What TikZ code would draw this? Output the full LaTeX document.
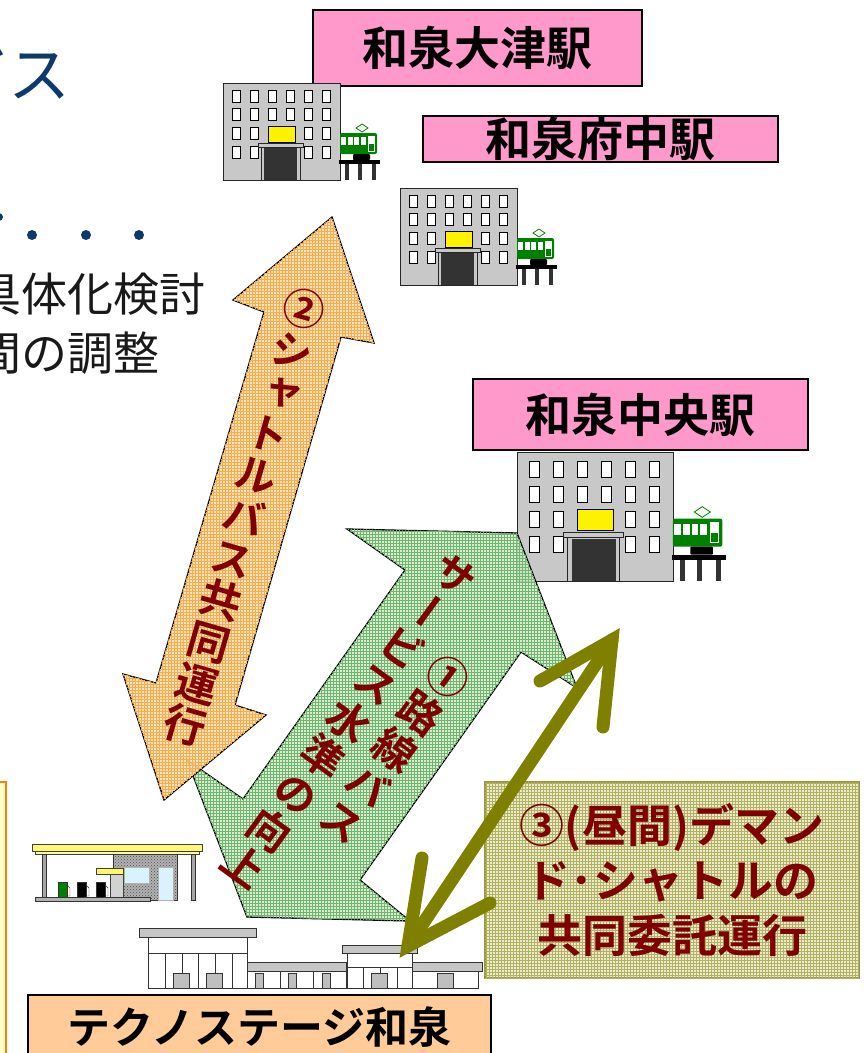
\documentclass[tikz,border=0pt]{standalone}
\usepackage{fontspec}
\setmainfont{Noto Sans CJK JP}[BoldFont={Noto Sans CJK JP Bold}]
\newfontfamily\tate{Noto Sans CJK JP}[RawFeature=+vert,BoldFont={Noto Sans CJK JP Bold}]
\usetikzlibrary{patterns}

\definecolor{titleblue}{HTML}{0D3A6B}
\definecolor{ekipink}{HTML}{FF99CC}
\definecolor{bldggray}{HTML}{C8C8C8}
\definecolor{doorgray}{HTML}{333333}
\definecolor{traingreen}{HTML}{008000}
\definecolor{shuttleorange}{HTML}{FFE2B8}
\definecolor{shuttlemesh}{HTML}{FFAA48}
\definecolor{routegreen}{HTML}{D0ECC8}
\definecolor{routemesh}{HTML}{70B470}
\definecolor{demandfill}{HTML}{ECECC8}
\definecolor{demandmesh}{HTML}{B0B066}
\definecolor{demandolive}{HTML}{808000}
\definecolor{darkred}{HTML}{800000}
\definecolor{technopeach}{HTML}{FFCC99}
\definecolor{notefill}{HTML}{FFFFCC}

\tikzset{
  stationbldg/.pic={
    \draw[gray!30!black, line width=0.8pt, fill=bldggray] (0,0) rectangle (117,97);
    \foreach \c in {0,...,5}
      \foreach \r in {0,1}
        \draw[black, line width=0.8pt, fill=white] (9+18*\c,7+18.7*\r) rectangle +(8,12);
    \foreach \c in {0,1,4,5}
      \foreach \r in {2,3}
        \draw[black, line width=0.8pt, fill=white] (9+18*\c,7+18.7*\r) rectangle +(8,12);
    \draw[black, line width=0.8pt, fill=yellow] (45,43) rectangle (72,59);
    \draw[gray!30!black, line width=0.8pt, fill=bldggray] (38,64) rectangle (77,97);
    \draw[gray!30!black, line width=0.8pt, fill=bldggray] (35,60) rectangle (80,64);
    \fill[doorgray] (41,65) rectangle (74,97);
    % train on the viaduct
    \draw[traingreen, line width=0.8pt] (133,45) -- (139,41) -- (145,45) -- (139,49) -- cycle;
    \fill[traingreen, rounded corners=2] (117,50) rectangle (154,71);
    \foreach \w in {0,...,3}
      \fill[white] (118+6.5*\w,54) rectangle +(5,8);
    \draw[white] (145,53) rectangle (151,68);
    \fill[white] (145,53) rectangle (151,61);
    \fill[black, rounded corners=1] (130,71) rectangle (147,77);
    \fill[black] (116,77) rectangle (157,81);
    \foreach \l in {122,135,149}
      \fill[doorgray] (\l,81) rectangle +(4,16);
  }
}

\begin{document}
\begin{tikzpicture}[x=1pt,y=-1pt,
  ekibox/.style={draw=black, line width=1.5pt, fill=ekipink, inner sep=0pt,
    font=\bfseries\fontsize{46}{46}\selectfont},
  meshfill/.style 2 args={fill=#1, postaction={pattern=grid, pattern color=#2}},
  arrowshape/.style={draw=black, line width=1.3pt, line join=miter},
  tatetext/.style={text=darkred, align=center, inner sep=0pt,
    font=\tate\bfseries\fontsize{42}{#1}\selectfont},
  demand/.style={line width=13pt, draw=demandolive, line cap=round},
  roofslab/.style={draw=gray!40!black, fill=gray!45},
  wall/.style={draw=gray!40!black, fill=white},
]
\useasboundingbox (0,0) rectangle (864,1053);
\clip (0,0) rectangle (864,1053);
\fill[white] (0,0) rectangle (864,1053);

\node[anchor=base east, inner sep=0pt, text=titleblue, font=\fontsize{62}{62}\selectfont] (title) at (71,97) {ビス};
\fill[titleblue] (-1,217) circle (4);
\foreach \x in {32,86,139}
  \fill[titleblue] (\x,235) circle (5);
\node[anchor=base east, inner sep=0pt, text=black!90, font=\fontsize{46}{46}\selectfont] (plan) at (206,311) {具体化検討};
\node[anchor=base east, inner sep=0pt, text=black!90, font=\fontsize{46}{46}\selectfont] (adjust) at (160,370) {間の調整};

\draw[orange, line width=2pt, fill=notefill] (-10,782) rectangle (6,1070);

% stations
\node[ekibox, minimum width=329pt, minimum height=76pt] (otsu) at (477.5,48) {和泉大津駅};
\node[ekibox, minimum width=355pt, minimum height=46pt] (fuchu) at (600.5,139) {和泉府中駅};
\node[ekibox, minimum width=335pt, minimum height=71pt] (chuo) at (640.5,414.5) {和泉中央駅};
\pic (otsubldg) at (223,83) {stationbldg};
\pic (fuchubldg) at (400,188) {stationbldg};
\pic[scale=1.333] (chuobldg) at (517,452) {stationbldg};

% gas station
\draw[gray!50!black, fill=yellow!55] (32,844) rectangle (202,851);
\draw[gray!50!black, fill=yellow!35] (35,851) rectangle (199,854);
\draw[gray!40!black, fill=gray!60] (113,854) rectangle (177,900);
\fill[pattern=crosshatch dots, pattern color=black!70] (113,854) rectangle (177,900);
\draw[gray!60, fill=cyan!15] (124,867) rectangle (149,883);
\draw[gray!60, fill=cyan!15] (158,867) rectangle (173,900);
\draw[gray!50!black, fill=yellow!60] (96,868) rectangle (123,874);
\draw[gray!50!black, fill=gray!35] (110,874) rectangle (123,897);
\draw[gray!40!black, fill=gray!70] (42,854) rectangle (46,900);
\draw[gray!40!black, fill=gray!70] (191,854) rectangle (195,900);
\draw[gray!40!black, fill=gray!60] (35,897) rectangle (150,901);
\foreach \p/\pc in {58/traingreen,77/black,96/black}{
  \draw[gray!40!black, fill=\pc] (\p,882) rectangle +(9,15);
  \draw[gray!40!black] (\p+9,885) -- (\p+12,888) -- (\p+12,896) -- (\p+9,896);
}

% Techno Stage factory
\draw[wall] (148,937) rectangle (247,988);
\draw[gray!40!black] (148,953) -- (247,953);
\foreach \x in {165,182,198,215,232}
  \draw[gray!40!black] (\x,953) -- (\x,988);
\foreach \x in {173,206}
  \draw[gray!40!black, fill=gray!50] (\x,973) rectangle +(16,15);
\draw[roofslab] (139,928) rectangle (256,937);
\draw[wall] (247,971) rectangle (346,988);
\foreach \x in {280,313}
  \draw[gray!40!black] (\x,971) -- (\x,988);
\foreach \x in {255,288,322}
  \draw[gray!40!black, fill=gray!50] (\x,973) rectangle +(8,15);
\draw[roofslab] (247,962) rectangle (346,971);
\draw[wall] (347,953) rectangle (412,988);
\draw[gray!40!black] (347,967) -- (412,967);
\foreach \x in {363,380,397}
  \draw[gray!40!black] (\x,967) -- (\x,988);
\draw[gray!40!black, fill=gray!50] (371,973) rectangle (387,988);
\draw[roofslab] (342,945) rectangle (417,953);
\draw[wall] (412,971) rectangle (478,988);
\draw[gray!40!black, fill=gray!50] (437,973) rectangle (453,988);
\draw[roofslab] (412,962) rectangle (482,971);

% route bus arrow and shuttle arrow
\path[meshfill={routegreen}{routemesh}, arrowshape, fill opacity=0.85]
  (347,529) -- (517,533) -- (577,688) -- (521,652) -- (360,880) -- (410,921)
  -- (247,917) -- (187,760) -- (243,799) -- (405,570) -- cycle;
\path[meshfill={shuttleorange}{shuttlemesh}, arrowshape, fill opacity=0.85]
  (332,217) -- (374,343) -- (341,337) -- (235,705) -- (266,715) -- (164,800)
  -- (123,674) -- (156,683) -- (264,312) -- (233,300) -- cycle;
\node[tatetext=43.3, rotate=-16] (shuttletext) at (244.5,517) {②\\シ\\ャ\\ト\\ル\\バ\\ス\\共\\同\\運\\行};
\node[tatetext=45, rotate=-36] (routetext) at (349,721) {サ\\ー\\ビ\\ス\\水\\準\\の\\向\\上};
\node[tatetext=45, rotate=-36] (routenum) at (395.5,748.5) {①\\路\\線\\バ\\ス};

% demand shuttle
\node[meshfill={demandfill}{demandmesh}, draw=demandolive!80, line width=1.5pt,
  minimum width=374pt, minimum height=196pt, inner sep=0pt, text=darkred, align=center,
  font=\bfseries\fontsize{45}{55}\selectfont] (demandbox) at (672,880)
  {③(昼間)デマン\\ド･シャトルの\\共同委託運行};
\coordinate (d3top) at (612,640);
\coordinate (d3bot) at (408,946);
\draw[demand] (d3bot) -- (d3top);
\draw[demand, line join=miter] (540,681) -- (d3top) -- (603,727);
\draw[demand, line join=miter] (422,858) -- (d3bot) -- (490,903);

\node[draw=black, line width=1.5pt, fill=technopeach, minimum width=463pt, minimum height=64pt,
  inner sep=0pt, font=\bfseries\fontsize{43}{43}\selectfont] (techno) at (259.5,1027) {テクノステージ和泉};
\end{tikzpicture}
\end{document}
